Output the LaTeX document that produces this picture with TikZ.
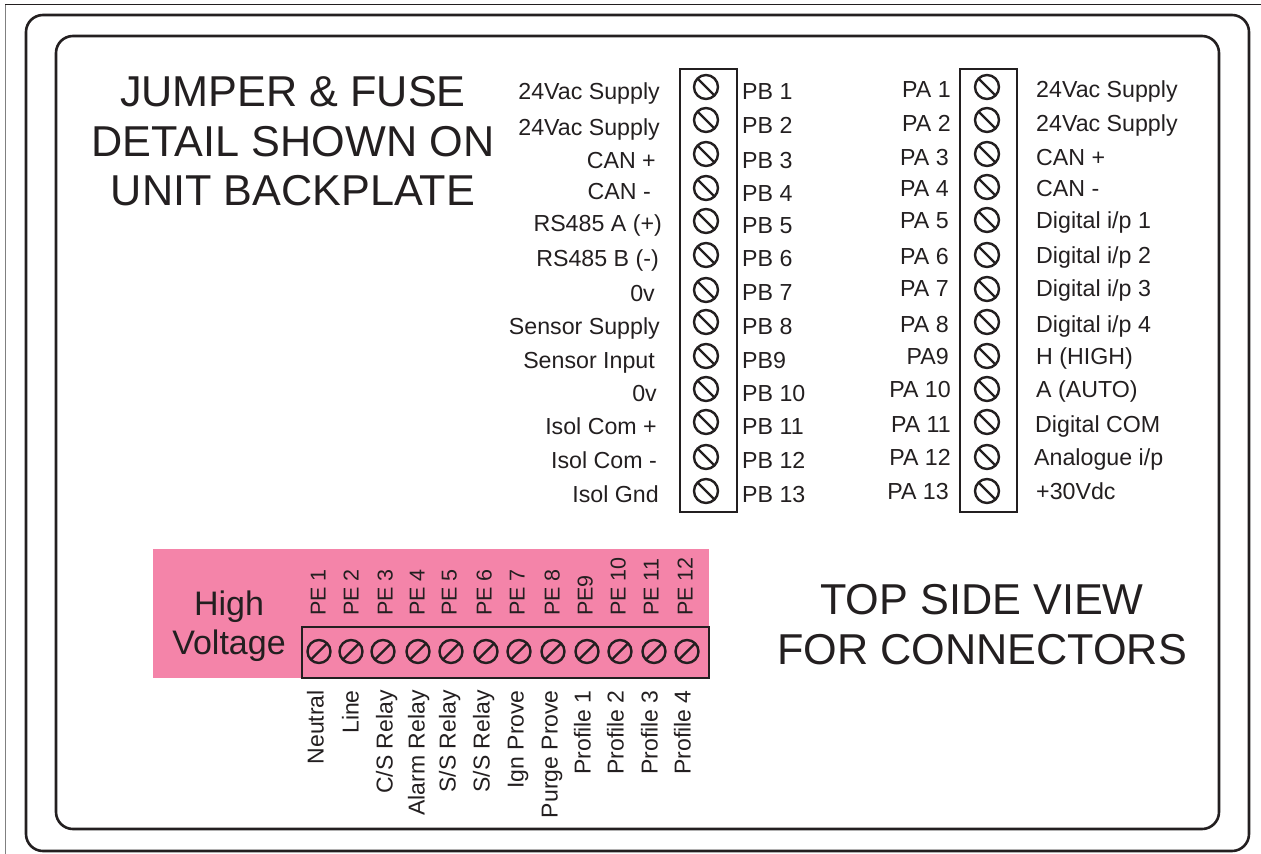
\documentclass[tikz,border=0pt]{standalone}
\usepackage{fontspec}
\setmainfont{Liberation Sans}
\definecolor{ink}{HTML}{231F20}
\definecolor{hvpink}{HTML}{F484A9}
\tikzset{
  frame/.style={draw=ink,line width=2.6pt,rounded corners=17pt,inner sep=0pt},
  termbox/.style={draw=ink,line width=2.8pt,inner sep=0pt},
  screwb/.style={circle,draw=ink,line width=2.4pt,minimum size=24pt,inner sep=0pt,
    path picture={\draw[ink,line width=2.4pt] (path picture bounding box.north west) -- (path picture bounding box.south east);}},
  screwe/.style={circle,draw=ink,line width=2.4pt,minimum size=23pt,inner sep=0pt,
    path picture={\draw[ink,line width=2.4pt] (path picture bounding box.south west) -- (path picture bounding box.north east);}},
  lab/.style={text=ink,inner sep=0pt,yshift=-6pt,font=\fontsize{23.2}{23.2}\selectfont},
  pelab/.style={text=ink,inner sep=0pt,xshift=6pt,rotate=90,font=\fontsize{21.5}{21.5}\selectfont},
  sidelab/.style={text=ink,inner sep=0pt,xshift=6pt,rotate=90,font=\fontsize{23}{23}\selectfont},
  hvtxt/.style={text=ink,inner sep=0pt,font=\fontsize{34}{34}\selectfont},
  bigtxt/.style={text=ink,inner sep=0pt,font=\fontsize{43.2}{43.2}\selectfont},
}
\begin{document}
\begin{tikzpicture}[x=1pt,y=-1pt]
\useasboundingbox (0,0) rectangle (1261,854);
\coordinate (edgetop) at (1261,4);
\coordinate (edgecorner) at (5,4);
\coordinate (edgeleft) at (5,854);
\draw[gray,line width=1pt] (edgecorner) -- (edgeleft);
\draw[ink,line width=1pt] (edgecorner) -- (edgetop);

\node[frame,minimum width=1223,minimum height=836] (outer) at (637.5,433) {};
\node[frame,minimum width=1163,minimum height=793] (inner) at (637.5,432.5) {};

\node[bigtxt] (t1) at (293,92) {JUMPER \& FUSE};
\node[bigtxt] (t2) at (293,142) {DETAIL SHOWN ON};
\node[bigtxt] (t3) at (293,191) {UNIT BACKPLATE};
\node[bigtxt] (v1) at (982,600) {TOP SIDE VIEW};
\node[bigtxt] (v2) at (982,650) {FOR CONNECTORS};

\node[termbox,minimum width=57,minimum height=443] (pb) at (708.5,290.5) {};
\node[termbox,minimum width=57,minimum height=443] (pa) at (988.5,290.5) {};
\foreach \y [count=\i] in {87,120,154,188,221,255,290,322,356,389,422,457,491}
  \node[screwb] (pb\i) at (706,\y) {};
\foreach \y [count=\i] in {87,120,154,187,220,255,289,322,356,389,422,457,491}
  \node[screwb] (pa\i) at (987,\y) {};

\foreach \x/\y/\t [count=\i] in {660/91/24Vac Supply,660/127/24Vac Supply,656/160/CAN +,651/191/CAN -,
    662/223/RS485 A (+),659/258/RS485 B (-),655/293/0v,660/326/Sensor Supply,655/360/Sensor Input,
    657/393/0v,657/426/Isol Com +,657/460/Isol Com -,659/494/Isol Gnd}
  \node[lab,anchor=mid east] (pbl\i) at (\x,\y) {\t};
\foreach \y/\t [count=\i] in {91/PB 1,125/PB 2,160/PB 3,193/PB 4,225/PB 5,258/PB 6,292/PB 7,326/PB 8,
    360/PB9,393/PB 10,426/PB 11,460/PB 12,494/PB 13}
  \node[lab,anchor=mid west] (pbr\i) at (742,\y) {\t};
\foreach \x/\y/\t [count=\i] in {951/89/PA 1,951/123/PA 2,949/157/PA 3,949/188/PA 4,949/220/PA 5,949/256/PA 6,
    949/288/PA 7,949/324/PA 8,949/356/PA9,951/389/PA 10,951/424/PA 11,951/457/PA 12,949/491/PA 13}
  \node[lab,anchor=mid east] (pal\i) at (\x,\y) {\t};
\foreach \x/\y/\t [count=\i] in {1036/89/24Vac Supply,1036/123/24Vac Supply,1036/157/CAN +,1036/188/CAN -,
    1036/220/{Digital i/p 1},1036/255/{Digital i/p 2},1036/288/{Digital i/p 3},1036/324/{Digital i/p 4},
    1036/356/H (HIGH),1036/389/A (AUTO),1035/424/Digital COM,1034/457/{Analogue i/p},1036/491/+30Vdc}
  \node[lab,anchor=mid west] (par\i) at (\x,\y) {\t};

\node[fill=hvpink,inner sep=0pt,minimum width=556,minimum height=129] (hv) at (431,613.5) {};
\node[hvtxt] (hv1) at (229,607) {High};
\node[hvtxt] (hv2) at (229,646) {Voltage};
\node[termbox,minimum width=407,minimum height=51] (pe) at (505.5,652.5) {};
\foreach \x [count=\i] in {319,351,383,418,451,486,519,553,587,620,654,687}
  \node[screwe] (pe\i) at (\x,651.5) {};
\foreach \x/\t [count=\i] in {317/PE 1,350/PE 2,384/PE 3,416/PE 4,448/PE 5,483/PE 6,516/PE 7,551/PE 8,
    584/PE9,617/PE 10,650/PE 11,684/PE 12}
  \node[pelab,anchor=mid west] (pet\i) at (\x,616) {\t};
\foreach \x/\t [count=\i] in {315/Neutral,350/Line,384/{C/S Relay},416/Alarm Relay,447/{S/S Relay},481/{S/S Relay},
    515/Ign Prove,549/Purge Prove,582/Profile 1,615/Profile 2,649/Profile 3,682/Profile 4}
  \node[sidelab,anchor=mid east] (pes\i) at (\x,690) {\t};
\end{tikzpicture}
\end{document}
